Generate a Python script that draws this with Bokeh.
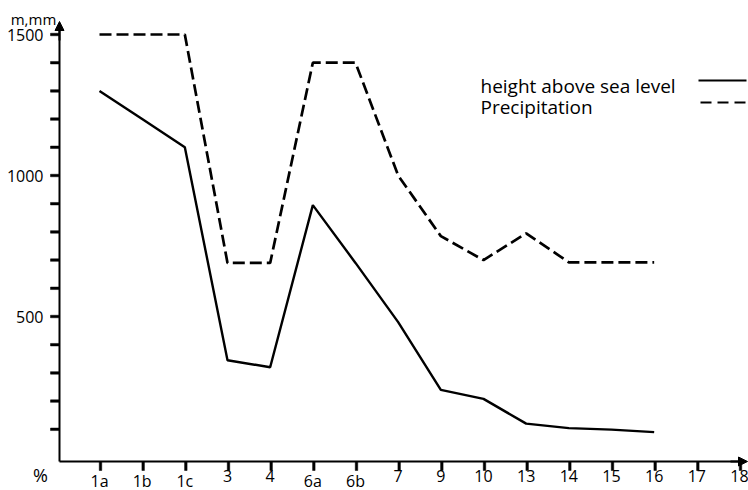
from bokeh.plotting import figure
from bokeh.models import Range1d, Arrow, NormalHead
from bokeh.embed import file_html
from bokeh.resources import INLINE
from bokeh.core.properties import value

# ---- data ----
stations = ["1a", "1b", "1c", "3", "4", "6a", "6b", "7", "9", "10", "13", "14", "15", "16", "17", "18"]
height_m = [1300, 1200, 1100, 345, 320, 895, 690, 480, 240, 208, 120, 104, 99, 90]
precip_mm = [1500, 1500, 1500, 690, 690, 1400, 1400, 1000, 785, 700, 795, 692, 692, 692]
y_major = [500, 1000, 1500]
y_major_labels = ["500", "1000", "1500"]
y_minor = list(range(100, 1600, 100))
legend_labels = ["height above sea level", "Precipitation"]

FONT = "Open Sans"
INK = "#000000"
W, H = 748, 490
XPX = 42.667        # px per station
X_FIRST = 99        # px of first station
YPX = 0.282         # px per unit
Y_ZERO = 457        # px of value 0
AX_X = 59           # px of y-axis line
AX_Y = 461          # px of x-axis line


def dx(px):
    return (px - X_FIRST) / XPX


def dy(py):
    return (Y_ZERO - py) / YPX


p = figure(width=W, height=H, x_range=Range1d(dx(0), dx(W)), y_range=Range1d(dy(H), dy(0)),
           x_axis_location=None, y_axis_location=None, min_border=0,
           output_backend="svg", toolbar_location=None)
p.outline_line_color = None
p.xgrid.grid_line_color = None
p.ygrid.grid_line_color = None
p.background_fill_color = "white"
p.border_fill_color = "white"

# ---- series ----
p.line(list(range(len(height_m))), height_m, line_color=INK, line_width=2.4)
p.line(list(range(len(precip_mm))), precip_mm, line_color=INK, line_width=2.7, line_dash="12 5")

# ---- axis lines ----
p.line([dx(AX_X), dx(AX_X)], [dy(AX_Y), dy(26)], line_color=INK, line_width=2)
p.line([dx(AX_X), dx(742)], [dy(AX_Y), dy(AX_Y)], line_color=INK, line_width=2)

# ---- y ticks: every 100, pointing left ----
p.rect(x=[dx(AX_X - 4.5)] * len(y_minor), y=y_minor, width=9, height=2.5,
       width_units="screen", height_units="screen", fill_color=INK, line_color=INK,
       line_width=0.5)

# ---- x ticks: below the axis ----
xt = list(range(len(stations)))
p.rect(x=[x + dx(100) for x in xt], y=[dy(AX_Y + 4.5)] * len(xt), width=2.5, height=9,
       width_units="screen", height_units="screen", fill_color=INK, line_color=INK,
       line_width=0.5)

head = dict(size=9, fill_color=INK, line_color=INK)
p.add_layout(Arrow(end=NormalHead(**head), x_start=dx(AX_X), y_start=dy(40),
                   x_end=dx(AX_X), y_end=dy(21), line_width=2, line_color=INK))
p.add_layout(Arrow(end=NormalHead(**head), x_start=dx(730), y_start=dy(AX_Y),
                   x_end=dx(747), y_end=dy(AX_Y), line_width=2, line_color=INK))

# ---- tick labels ----
p.text(x=xt, y=[dy(469)] * len(xt), text=stations, text_font=value(FONT),
       text_font_size="16px", text_align="center", text_baseline="top", text_color=INK)
p.text(x=[dx(43)] * len(y_major), y=y_major, text=y_major_labels, text_font=value(FONT),
       text_font_size="16px", text_align="right", text_baseline="middle", text_color=INK)

# ---- unit labels ----
p.text(x=[dx(33)], y=[dy(18)], text=["m,mm"], text_font=value(FONT), text_font_size="15px",
       text_align="center", text_baseline="alphabetic", text_color=INK)
p.text(x=[dx(40)], y=[dy(474)], text=["%"], text_font=value(FONT), text_font_size="18px",
       text_align="center", text_baseline="alphabetic", text_color=INK)

# ---- legend: text left, sample right ----
p.text(x=[dx(480), dx(480)], y=[dy(85), dy(106)], text=legend_labels, text_font=value(FONT),
       text_font_size="19px", text_baseline="alphabetic", text_color=INK)
p.line([dx(698), dx(746)], [dy(80), dy(80)], line_color=INK, line_width=2)
p.line([dx(700), dx(746)], [dy(102), dy(102)], line_color=INK, line_width=2, line_dash="11 6")

open("out.html", "w").write(file_html(p, INLINE))
